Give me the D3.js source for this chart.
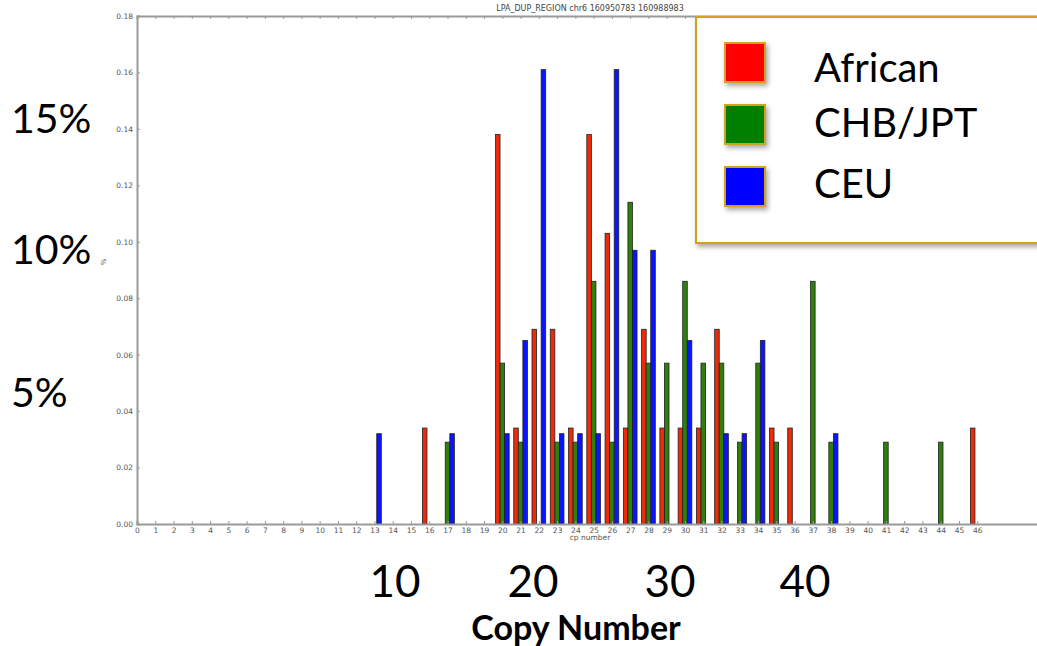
<!DOCTYPE html>
<html>
<head>
    <meta charset="utf-8">
    <script src="https://cdn.jsdelivr.net/npm/d3@7"></script>
    <style>
        body { margin: 0; background: #ffffff; }
        svg { display: block; }
        .tick text { fill: #555555; font-family: "DejaVu Sans", sans-serif; font-size: 7.5px; }
        .big { font-family: Lato, "Open Sans", sans-serif; fill: #000000; }
    </style>
</head>
<body>
<div id="canvas"></div>
<script>
    // copy number categories and the share of each population at that copy number
    var copyNumbers = [13, 16, 17, 20, 21, 22, 23, 24, 25, 26, 27, 28, 29, 30, 31, 32, 33, 34, 35, 36, 37, 38, 41, 44, 46];
    var african     = [0, 0.034, 0, 0.138, 0.034, 0.069, 0.069, 0.034, 0.138, 0.103, 0.034, 0.069, 0.034, 0.034, 0.034, 0.069, 0, 0, 0.034, 0.034, 0, 0, 0, 0, 0.034];
    var chbJpt      = [0, 0, 0.029, 0.057, 0.029, 0, 0.029, 0.029, 0.086, 0.029, 0.114, 0.057, 0.057, 0.086, 0.057, 0.057, 0.029, 0.057, 0.029, 0, 0.086, 0.029, 0.029, 0.029, 0];
    var ceu         = [0.032, 0, 0.032, 0.032, 0.065, 0.161, 0.032, 0.032, 0.032, 0.161, 0.097, 0.097, 0, 0.065, 0, 0.032, 0.032, 0.065, 0, 0, 0, 0.032, 0, 0, 0];

    var seriesNames  = ['African', 'CHB/JPT', 'CEU'];
    var seriesColors = ['#ee2a08', '#2f7f0c', '#0a14ff'];
    var legendColors = ['#ff0000', '#008000', '#0000ff'];

    var xTicks = d3.range(0, 47);
    var yTicks = [0, 0.02, 0.04, 0.06, 0.08, 0.10, 0.12, 0.14, 0.16, 0.18];
    var slideX = [10, 20, 30, 40];
    var slideY = ['15%', '10%', '5%'];

    var W = 1037, H = 646;
    var svg = d3.select('#canvas').append('svg').attr('width', W).attr('height', H);
    svg.append('rect').attr('width', W).attr('height', H).attr('fill', '#ffffff');

    var x = d3.scaleLinear().domain([0, 49.6]).range([137, 1043]);
    var y = d3.scaleLinear().domain([0, 0.18]).range([524, 16]);
    var barW = 0.25;

    var plot = svg.append('g');

    // bars: red left of tick, green on tick, blue right of tick
    var all = [african, chbJpt, ceu];
    all.forEach(function(values, s)
    {
        var rows = copyNumbers.map(function(c, i) { return { c: c, v: values[i] }; })
                              .filter(function(d) { return d.v > 0; });
        plot.selectAll('.bar' + s).data(rows).enter().append('rect')
            .attr('class', 'bar' + s)
            .attr('x', function(d) { return x(d.c + (s - 1) * barW - barW / 2); })
            .attr('width', x(barW) - x(0))
            .attr('y', function(d) { return y(d.v); })
            .attr('height', function(d) { return y(0) - y(d.v); })
            .attr('fill', seriesColors[s])
            .attr('stroke', '#222222')
            .attr('stroke-width', 0.8);
    });

    // axes
    var xAxis = d3.axisBottom(x).tickValues(xTicks).tickSize(-3).tickPadding(6).tickFormat(d3.format('d'));
    var gx = plot.append('g').attr('transform', 'translate(0,' + y(0) + ')').call(xAxis);
    var gxTop = plot.append('g').attr('transform', 'translate(0,' + y(0.18) + ')')
        .call(d3.axisTop(x).tickValues(xTicks).tickSize(-3).tickFormat(''));
    var gy = plot.append('g').attr('transform', 'translate(' + x(0) + ',0)')
        .call(d3.axisLeft(y).tickValues(yTicks).tickSize(-3).tickPadding(4).tickFormat(d3.format('.2f')));
    [gx, gxTop, gy].forEach(function(g)
    {
        g.select('.domain').attr('stroke', '#9a9a9a').attr('stroke-width', 2);
        g.selectAll('.tick line').attr('stroke', '#9a9a9a');
        g.selectAll('.tick text').attr('fill', '#555555');
    });
    gx.selectAll('.tick text').attr('dy', '0.4em');

    plot.append('text').attr('x', 590).attr('y', 11).attr('text-anchor', 'middle')
        .attr('font-family', 'DejaVu Sans, sans-serif').attr('font-size', 8).attr('fill', '#444444')
        .text('LPA_DUP_REGION chr6 160950783 160988983');
    plot.append('text').attr('x', 590).attr('y', 540).attr('text-anchor', 'middle')
        .attr('font-family', 'DejaVu Sans, sans-serif').attr('font-size', 7.5).attr('fill', '#555555')
        .text('cp number');
    plot.append('text').attr('transform', 'translate(106,262) rotate(-90)').attr('text-anchor', 'middle')
        .attr('font-family', 'DejaVu Sans, sans-serif').attr('font-size', 7).attr('fill', '#555555')
        .text('%');

    // slide overlay labels
    svg.selectAll('.slideX').data(slideX).enter().append('text')
        .attr('class', 'big')
        .attr('x', function(d, i) { return [395, 533, 670, 805][i]; })
        .attr('y', 597)
        .attr('text-anchor', 'middle')
        .attr('font-size', 44)
        .text(function(d) { return d; });
    svg.selectAll('.slideY').data(slideY).enter().append('text')
        .attr('class', 'big')
        .attr('x', 11)
        .attr('y', function(d, i) { return [133, 264, 407][i]; })
        .attr('font-size', 41)
        .text(function(d) { return d; });
    svg.append('text').attr('class', 'big')
        .attr('x', 576).attr('y', 640).attr('text-anchor', 'middle')
        .attr('font-size', 34).attr('font-weight', 'bold')
        .text('Copy Number');

    // legend box
    var defs = svg.append('defs');
    var f = defs.append('filter').attr('id', 'shadow').attr('x', '-20%').attr('y', '-20%').attr('width', '150%').attr('height', '150%');
    f.append('feDropShadow').attr('dx', 2).attr('dy', 3).attr('stdDeviation', 2.5).attr('flood-color', '#000000').attr('flood-opacity', 0.35);

    var legend = svg.append('g');
    legend.append('rect').attr('x', 696).attr('y', 17).attr('width', 360).attr('height', 226)
        .attr('fill', '#ffffff').attr('stroke', '#d4a020').attr('stroke-width', 2)
        .attr('filter', 'url(#shadow)');
    var items = legend.selectAll('.item').data(seriesNames).enter().append('g');
    items.append('rect').attr('x', 725)
        .attr('y', function(d, i) { return [43, 105, 167][i]; })
        .attr('width', 40).attr('height', 39)
        .attr('fill', function(d, i) { return legendColors[i]; })
        .attr('stroke', '#d4a020').attr('stroke-width', 2)
        .attr('filter', 'url(#shadow)');
    items.append('text').attr('class', 'big')
        .attr('x', 814)
        .attr('y', function(d, i) { return [82, 137, 198][i]; })
        .attr('font-size', 40)
        .text(function(d) { return d; });
</script>
</body>
</html>
